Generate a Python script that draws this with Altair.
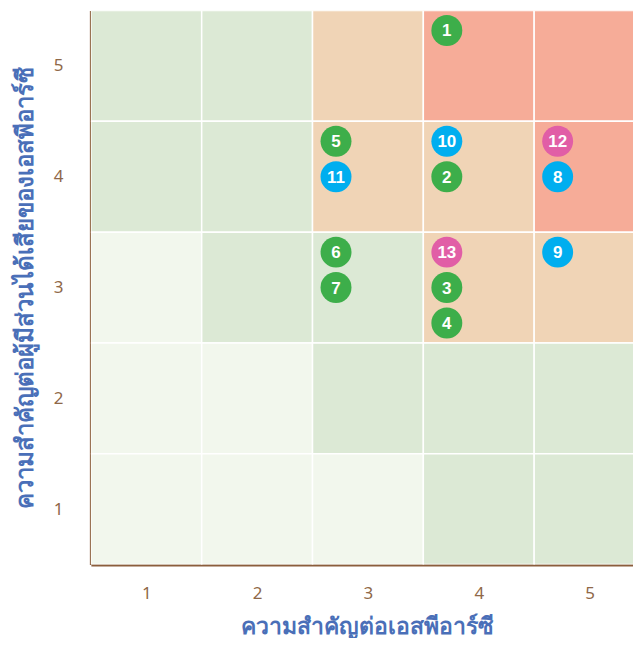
import altair as alt
import pandas as pd

# Issues listed in display order within each cell (top to bottom)
issue_ids = [1, 5, 11, 10, 2, 12, 8, 6, 7, 13, 3, 4, 9]
issue_x = [4, 3, 3, 4, 4, 5, 5, 3, 3, 4, 4, 4, 5]
issue_y = [5, 4, 4, 4, 4, 4, 4, 3, 3, 3, 3, 3, 3]
issue_group = ["G", "G", "B", "B", "G", "P", "B", "G", "G", "P", "G", "G", "B"]

# Risk level of each cell, rows from score 5 (top) to 1 (bottom), columns 1..5
cell_levels = [
    [1, 1, 2, 3, 3],
    [1, 1, 2, 2, 3],
    [0, 1, 1, 2, 2],
    [0, 0, 1, 1, 1],
    [0, 0, 0, 1, 1],
]
level_colors = ["#f2f7ed", "#dce9d5", "#f0d4b6", "#f6ac98"]
group_names = ["G", "B", "P"]
group_colors = ["#3dae4a", "#00aeef", "#e15ea6"]
tick_values = [1, 2, 3, 4, 5]

x_title = "ความสำคัญต่อเอสพีอาร์ซี"
y_title = "ความสำคัญต่อผู้มีส่วนได้เสียของเอสพีอาร์ซี"

cells = []
for r, row in enumerate(cell_levels):
    yv = 5 - r
    for c, lvl in enumerate(row):
        cells.append({"x": c + 1, "y": yv, "level": lvl})
cells_df = pd.DataFrame(cells)

pts = pd.DataFrame({"id": issue_ids, "x": issue_x, "y": issue_y, "group": issue_group})
pts["slot"] = pts.groupby(["x", "y"]).cumcount()

# the right-most column is partly cut off at the page edge in the reference
xscale = alt.Scale(domain=[0.5, 5.482], nice=False, zero=False)
yscale = alt.Scale(domain=[0.5, 5.5], nice=False, zero=False)

brown = "#8b5e3c"
label_brown = "#8f6848"
blue = "#4a6fb8"
font = "Noto Sans"

xaxis = alt.Axis(values=tick_values, title=x_title, ticks=False, grid=False,
                 domainColor=brown, domainWidth=3, labelColor=label_brown,
                 labelFontSize=17, labelPadding=21, labelFont=font,
                 titleColor=blue, titleFontSize=23, titleFontWeight="bold",
                 titlePadding=14, titleFont=font, format="d")
yaxis = alt.Axis(values=tick_values, title=y_title, ticks=False, grid=False,
                 domainColor=brown, domainWidth=3, labelColor=label_brown,
                 labelFontSize=17, labelPadding=28, labelFont=font,
                 titleColor=blue, titleFontSize=24, titleFontWeight="bold",
                 titlePadding=16, titleFont=font, format="d")

rects = alt.Chart(cells_df).transform_calculate(
    x0="datum.x - 0.5", x1="datum.x + 0.5", y0="datum.y - 0.5", y1="datum.y + 0.5"
).mark_rect(stroke="white", strokeWidth=1.5, clip=True).encode(
    x=alt.X("x0:Q", scale=xscale, axis=xaxis),
    x2="x1:Q",
    y=alt.Y("y0:Q", scale=yscale, axis=yaxis),
    y2="y1:Q",
    color=alt.Color("level:O", scale=alt.Scale(domain=[0, 1, 2, 3], range=level_colors), legend=None),
)

base = alt.Chart(pts).transform_calculate(
    px="datum.x - 0.5 + 0.212",
    py="datum.y + 0.5 - 0.18 - datum.slot * 0.32",
)

circles = base.mark_circle(size=960, opacity=1).encode(
    x=alt.X("px:Q", scale=xscale),
    y=alt.Y("py:Q", scale=yscale),
    color=alt.Color("group:N", scale=alt.Scale(domain=group_names, range=group_colors), legend=None),
)

labels = base.mark_text(color="white", fontSize=17, fontWeight="bold", font="Liberation Sans",
                        baseline="middle", dy=1).encode(
    x=alt.X("px:Q", scale=xscale),
    y=alt.Y("py:Q", scale=yscale),
    text="id:N",
)

chart = alt.layer(rects, circles, labels).resolve_scale(color="independent").properties(
    width=553, height=555,
    padding={"left": 5, "top": 2, "right": -10, "bottom": -1},
).configure_view(stroke=None)

chart.save("out.html", embed_options={"renderer": "svg", "actions": False})
